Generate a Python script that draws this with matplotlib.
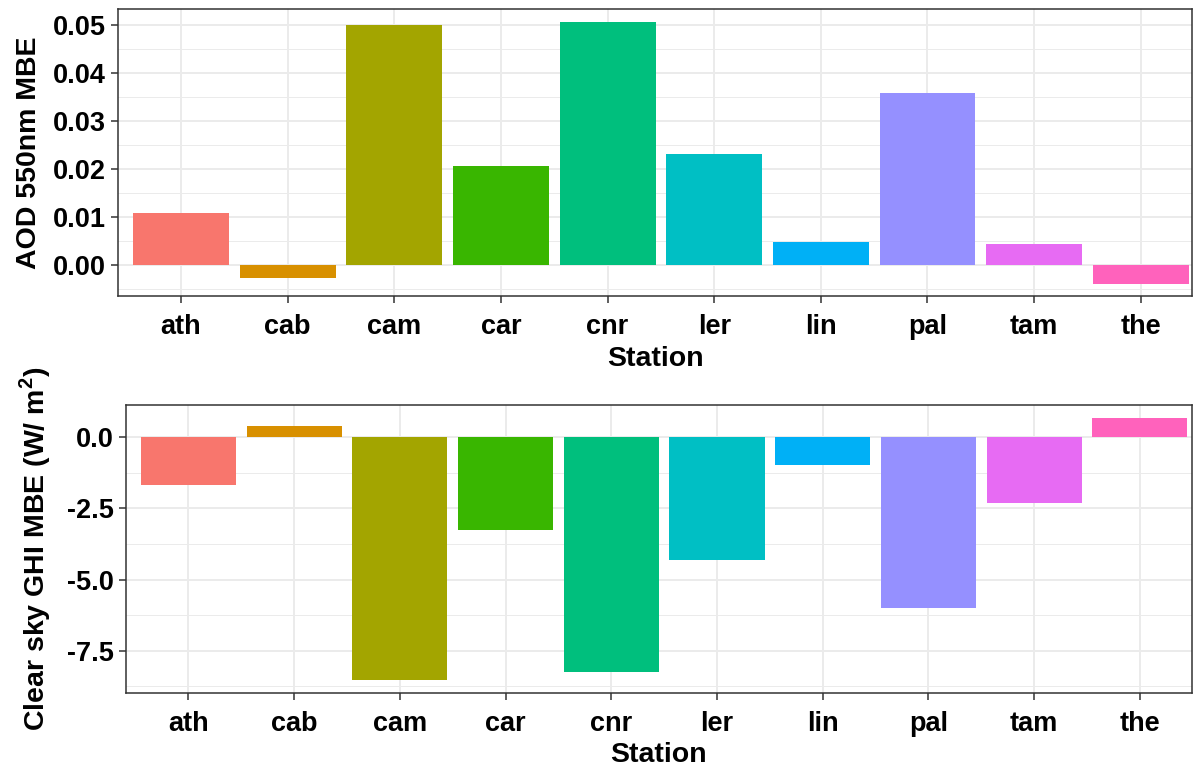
import numpy as np
import matplotlib
matplotlib.use('Agg')
import matplotlib.pyplot as plt
from matplotlib.ticker import MultipleLocator

plt.rcParams['font.family'] = ['Liberation Sans', 'DejaVu Sans']
plt.rcParams['font.weight'] = 'bold'
plt.rcParams['mathtext.fontset'] = 'custom'
plt.rcParams['mathtext.rm'] = 'Liberation Sans:bold'
plt.rcParams['mathtext.bf'] = 'Liberation Sans:bold'

# data
stations = ['ath', 'cab', 'cam', 'car', 'cnr', 'ler', 'lin', 'pal', 'tam', 'the']
aod_mbe = [0.0108, -0.0028, 0.0500, 0.0207, 0.0507, 0.0231, 0.0048, 0.0359, 0.0043, -0.0040]
ghi_mbe = [-1.68, 0.40, -8.53, -3.26, -8.26, -4.33, -0.96, -6.00, -2.31, 0.67]

# ggplot default hue palette
colors = ['#F8766D', '#D89000', '#A3A500', '#39B600', '#00BF7D',
          '#00BFC4', '#00B0F6', '#9590FF', '#E76BF3', '#FF62BC']

W, H = 1193, 767
fig = plt.figure(figsize=(W / 100, H / 100), dpi=100)


def style_axes(ax, major, minor):
    ax.set_facecolor('white')
    for s in ax.spines.values():
        s.set_color('#333333')
        s.set_linewidth(1.1)
    ax.yaxis.set_major_locator(MultipleLocator(major))
    ax.yaxis.set_minor_locator(MultipleLocator(minor))
    ax.grid(which='major', color='#EBEBEB', linewidth=1.4)
    ax.grid(which='minor', axis='y', color='#EBEBEB', linewidth=0.7)
    ax.set_axisbelow(True)
    ax.tick_params(axis='both', which='major', direction='out', length=5,
                   width=1.1, color='#333333', labelsize=19.5, labelcolor='black')
    ax.tick_params(axis='y', which='minor', length=0)
    ax.tick_params(axis='x', pad=8)
    for lab in ax.get_xticklabels() + ax.get_yticklabels():
        lab.set_fontweight('bold')
    ax.set_xlabel('Station', fontsize=20.5, fontweight='bold', labelpad=4)


# top panel
ax1 = fig.add_axes([118 / W, (H - 296) / H, (1192 - 118) / W, (296 - 9) / H])
ax1.bar(stations, aod_mbe, width=0.9, color=colors)
ax1.set_xlim(-0.59, 9.48)
ax1.set_ylim(-0.00646, 0.05333)
style_axes(ax1, 0.01, 0.005)
ax1.yaxis.set_major_formatter(plt.FuncFormatter(lambda v, p: f'{v:.2f}'))
ax1.set_ylabel('AOD 550nm MBE', fontsize=20.5, fontweight='bold', labelpad=8)

# bottom panel
ax2 = fig.add_axes([125.7 / W, (H - 692.7) / H, (1192 - 125.7) / W, (692.7 - 405) / H])
ax2.bar(stations, ghi_mbe, width=0.9, color=colors)
ax2.set_xlim(-0.594, 9.494)
ax2.set_ylim(-8.98, 1.136)
style_axes(ax2, 2.5, 1.25)
ax2.yaxis.set_major_formatter(plt.FuncFormatter(lambda v, p: f'{v:.1f}'))
ax2.set_ylabel(r'Clear sky GHI MBE (W/ m$^{2}$)', fontsize=20.5, fontweight='bold', labelpad=10)

fig.savefig('out.png', dpi=100, facecolor='white')
